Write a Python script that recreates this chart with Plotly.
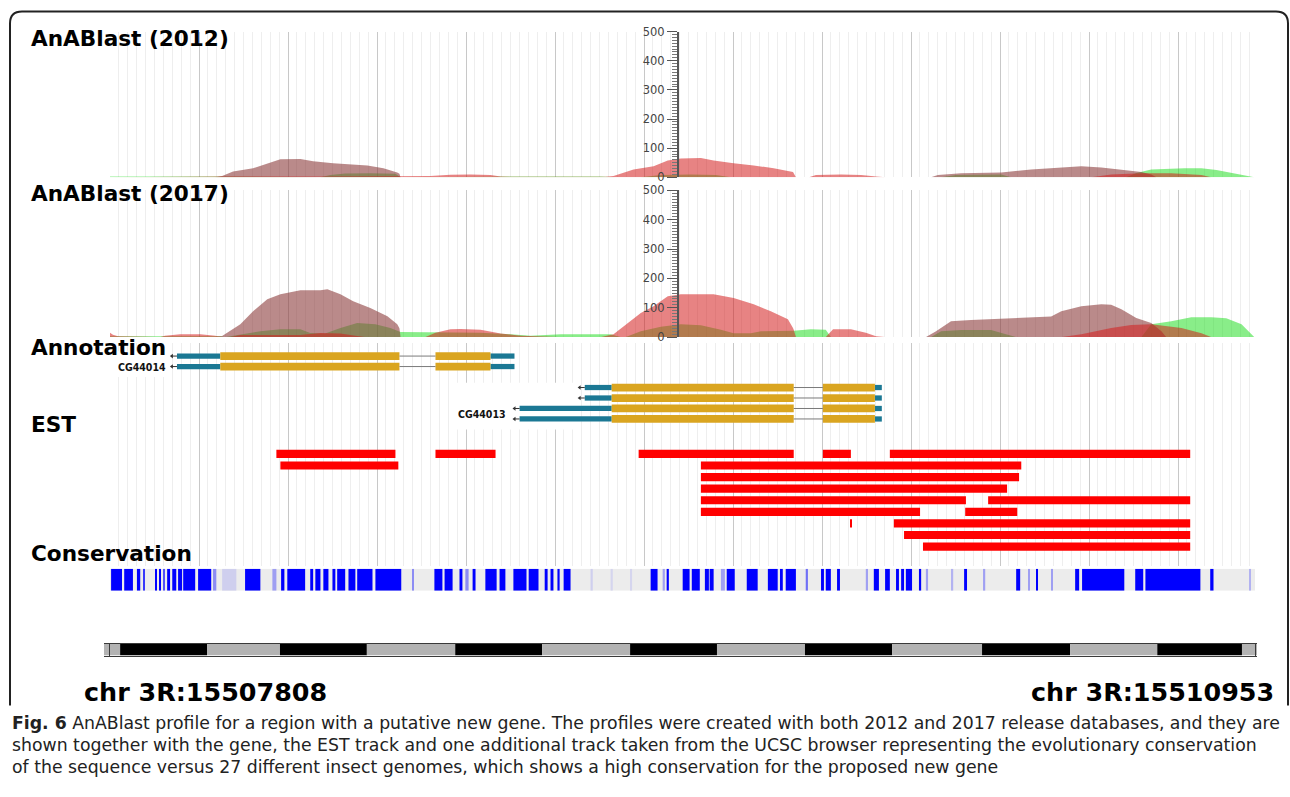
import plotly.graph_objects as go

W, H = 1290, 797

# ---- region -------------------------------------------------------------
CHROM = "chr 3R"
REGION_START = 15507808
REGION_END = 15510953
REGION_LEN = REGION_END - REGION_START

# browser grid: a major line every ~244.5 bp, ten minor lines per major
GRID_MAJOR = 244.46
GRID_MINOR = GRID_MAJOR / 10

# ---- AnABlast profiles (bp from region start, profile score) -------------
A12_BROWN_POS = [0, 289, 308, 338, 393, 432, 468, 523, 558, 613, 668, 707, 751, 789, 795, 798,
                 2255, 2274, 2338, 2448, 2530, 2613, 2668, 2723, 2778, 2833, 2860, 2874, 3145]
A12_BROWN_VAL = [0, 0, 5, 20, 31, 48, 62, 63, 55, 48, 44, 41, 31, 17, 12, 0,
                 0, 8, 14, 17, 27, 34, 38, 34, 27, 18, 10, 0, 0]
A12_RED_POS = [0, 300, 600, 853, 880, 935, 990, 1045, 1073, 1100, 1361, 1383, 1438, 1493, 1532,
               1568, 1623, 1658, 1713, 1768, 1823, 1876, 1878, 1884, 1920, 1939, 2008, 2063,
               2104, 2131, 2695, 2750, 2833, 2915, 2998, 3025, 3145]
A12_RED_VAL = [0, 3, 3, 3, 5, 9, 10, 8, 3, 2, 2, 5, 27, 38, 58,
               65, 66, 58, 48, 41, 31, 18, 12, 0, 0, 8, 10, 8,
               3, 0, 0, 10, 14, 14, 8, 0, 0]
A12_GREEN_POS = [0, 300, 578, 605, 646, 715, 784, 798, 1045, 1073, 1348, 1389, 1458, 1513, 1595,
                 1664, 1705, 2283, 2324, 2393, 2448, 2475, 2791, 2819, 2860, 2951, 2998, 3039,
                 3094, 3143]
A12_GREEN_VAL = [3, 3, 0, 8, 13, 14, 12, 0, 2, 3, 3, 0, 0, 8, 10,
                 8, 0, 0, 8, 10, 10, 0, 0, 15, 27, 31, 31, 25,
                 12, 0]

A17_BROWN_POS = [0, 289, 308, 358, 393, 432, 468, 523, 578, 597, 633, 668, 715, 762, 789, 795, 798,
                 2241, 2269, 2310, 2365, 2448, 2530, 2585, 2613, 2668, 2723, 2750, 2778, 2819,
                 2860, 2888, 2901, 3145]
A17_BROWN_VAL = [0, 0, 4, 44, 88, 129, 146, 160, 160, 163, 146, 122, 99, 71, 44, 30, 0,
                 0, 20, 54, 58, 62, 65, 70, 88, 105, 112, 110, 95, 65,
                 48, 20, 0, 0]
A17_RED_POS = [0, 8, 22, 138, 151, 193, 248, 289, 308, 330, 358, 523, 578, 633, 674, 701, 866,
               894, 935, 963, 1018, 1073, 1128, 1183, 1238, 1348, 1383, 1458, 1493, 1532, 1568,
               1623, 1658, 1713, 1768, 1815, 1862, 1876, 1878, 1884, 1966, 1986, 2035, 2076,
               2104, 2131, 2613, 2668, 2750, 2805, 2860, 2943, 2998, 3025, 3145]
A17_RED_VAL = [15, 8, 3, 0, 5, 10, 10, 5, 0, 0, 7, 7, 14, 12, 5, 0, 0,
               15, 27, 28, 25, 12, 5, 3, 0, 0, 10, 82, 105, 139, 146,
               146, 146, 133, 112, 88, 61, 31, 25, 0, 0, 27, 27, 15,
               3, 0, 0, 10, 31, 41, 44, 31, 13, 0, 0]
A17_GREEN_POS = [0, 303, 316, 358, 413, 468, 523, 550, 591, 633, 679, 729, 770, 798, 880, 963,
                 1018, 1100, 1155, 1238, 1375, 1403, 1416, 1458, 1513, 1568, 1623, 1678, 1713,
                 1760, 1788, 1878, 1925, 1966, 1980, 2255, 2283, 2338, 2420, 2461, 2489, 2833,
                 2860, 2915, 2970, 3025, 3066, 3108, 3143]
A17_GREEN_VAL = [3, 3, 0, 8, 20, 27, 27, 14, 12, 31, 48, 44, 31, 17, 17, 17,
                 15, 10, 5, 10, 10, 0, 0, 20, 35, 44, 40, 25, 13,
                 13, 20, 22, 27, 25, 0, 0, 20, 24, 24, 10, 0, 0,
                 44, 54, 68, 68, 64, 44, 0]

# ---- gene models ----------------------------------------------------------
TX_GENE = ["CG44014", "CG44014", "CG44013", "CG44013", "CG44013", "CG44013"]
TX_ROW = [0, 1, 3, 4, 5, 6]
EXON_TX = [0, 0, 0, 0, 1, 1, 1, 1, 2, 2, 2, 2, 3, 3, 3, 3, 4, 4, 4, 4, 5, 5, 5, 5]
EXON_START = [184, 303, 894, 1045, 184, 303, 894, 1045,
              1304, 1378, 1958, 2101, 1304, 1378, 1958, 2101,
              1125, 1378, 1958, 2101, 1125, 1378, 1958, 2101]
EXON_END = [303, 795, 1045, 1111, 303, 795, 1045, 1111,
            1378, 1878, 2101, 2120, 1378, 1878, 2101, 2120,
            1378, 1878, 2101, 2120, 1378, 1878, 2101, 2120]
EXON_KIND = ["utr", "cds", "cds", "utr"] * 6
GENE_LABEL_ROW = {"CG44014": 1, "CG44013": 5.5}

# ---- EST alignments ---------------------------------------------------------
EST_ROW = [1, 1, 1, 1, 1, 2, 2, 3, 4, 5, 5, 6, 6, 7, 7, 8, 9]
EST_START = [457, 894, 1452, 1958, 2142, 468, 1623, 1623, 1623, 1623, 2412, 1623, 2349, 2035,
             2153, 2181, 2233]
EST_END = [784, 1059, 1878, 2035, 2967, 792, 2503, 2497, 2464, 2351, 2967, 2225, 2492, 2038,
           2967, 2967, 2967]

# ---- conservation (27 insect genomes) -------------------------------------
CONS_START = [3, 39, 74, 91, 124, 135, 146, 157, 171, 187, 201, 242, 283, 308, 371, 446, 470,
              487, 550, 564, 586, 611, 624, 655, 679, 729, 831, 891, 919, 960, 976, 996, 1031,
              1070, 1108, 1150, 1194, 1210, 1229, 1246, 1320, 1375, 1430, 1485, 1518,
              1529, 1573, 1598, 1634, 1647, 1678, 1694, 1749, 1807, 1843, 1856, 1911, 1953,
              1966, 1997, 2076, 2098, 2129, 2159, 2173, 2186, 2222, 2241, 2310, 2346, 2398,
              2489, 2522, 2544, 2585, 2651, 2670, 2816, 2844, 3022, 3130]
CONS_END = [33, 63, 83, 94, 129, 140, 149, 165, 182, 198, 234, 278, 292, 347, 413, 457, 479,
            536, 558, 578, 600, 619, 646, 674, 721, 800, 833, 913, 941, 968, 985, 1004, 1062,
            1086, 1144, 1177, 1202, 1218, 1235, 1265, 1326, 1381, 1434, 1504, 1524,
            1535, 1592, 1620, 1645, 1658, 1689, 1716, 1779, 1834, 1848, 1884, 1917, 1961,
            1980, 2005, 2082, 2112, 2142, 2167, 2181, 2203, 2228, 2247, 2316, 2354, 2404,
            2500, 2527, 2549, 2588, 2662, 2786, 2838, 2995, 3031, 3132]
CONS_SCORE = [1, 1, 1, 0.8, 1, 1, 0.7, 1, 1, 1, 1, 1, 0.5, 0.15, 1, 0.4, 1,
              1, 1, 1, 1, 1, 1, 1, 1, 1, 0.5, 1, 1, 1, 0.5, 1, 1,
              1, 1, 1, 1, 1, 1, 1, 0.15, 0.12, 0.12, 1, 0.4,
              1, 1, 1, 1, 1, 0.4, 1, 1, 1, 1, 1, 0.6, 1,
              1, 1, 0.4, 1, 1, 1, 1, 1, 1, 0.4, 0.3, 1, 0.4,
              1, 0.4, 1, 0.4, 1, 1, 1, 1, 1, 0.3]

# ---- ruler bands -----------------------------------------------------------
RULER_BOUNDS = [0, 44, 281, 480, 717, 958, 1195, 1435, 1672, 1912, 2150, 2395, 2635, 2873,
                3104, 3145]

CAPTION = [
    "<b>Fig. 6</b> AnABlast profile for a region with a putative new gene. The profiles were "
    "created with both 2012 and 2017 release databases, and they are",
    "shown together with the gene, the EST track and one additional track taken from the UCSC "
    "browser representing the evolutionary conservation",
    "of the sequence versus 27 different insect genomes, which shows a high conservation for "
    "the proposed new gene",
]

# ---- styling ---------------------------------------------------------------
BROWN = "rgba(140,60,60,0.6)"
RED = "rgba(212,30,30,0.55)"
GREEN = "rgba(40,222,40,0.55)"
CDS_COLOR = "#daa520"
UTR_COLOR = "#1b7894"
EST_COLOR = "#ff0000"
MAJOR_GRID = "#c8c8c8"
MINOR_GRID = "#eeeeee"
CONS_BG = "#ececec"
TITLE_FONT = dict(family="DejaVu Sans", size=21.6, color="#000")
LABEL_FONT = dict(family="DejaVu Sans Condensed, DejaVu Sans, sans-serif", size=10.5, color="#111")
CAPTION_FONT = dict(family="DejaVu Sans", size=17.3, color="#222")

# vertical layout is laid out in pixel rows and scaled slightly about the middle track
V_CENTER = 336
V_SCALE = 1.0163


def fx(p):
    return p / W


def fy(p):
    return 1 - (V_CENTER + (p - V_CENTER) * V_SCALE) / H


fig = go.Figure()


def add_profile(pos, val, color, xa, ya):
    fig.add_trace(go.Scatter(x=pos, y=val, mode="lines", fill="tozeroy", fillcolor=color,
                             line=dict(width=0, color=color), xaxis=xa, yaxis=ya,
                             hoverinfo="skip", showlegend=False))


add_profile(A12_GREEN_POS, A12_GREEN_VAL, GREEN, "x", "y")
add_profile(A12_BROWN_POS, A12_BROWN_VAL, BROWN, "x", "y")
add_profile(A12_RED_POS, A12_RED_VAL, RED, "x", "y")
add_profile(A17_GREEN_POS, A17_GREEN_VAL, GREEN, "x2", "y2")
add_profile(A17_BROWN_POS, A17_BROWN_VAL, BROWN, "x2", "y2")
add_profile(A17_RED_POS, A17_RED_VAL, RED, "x2", "y2")

# gene models: introns, arrows, exons
intron_x, intron_y = [], []
for t, row in enumerate(TX_ROW):
    ex = sorted((s, e) for s, e, k in zip(EXON_START, EXON_END, EXON_TX) if k == t)
    for (s0, e0), (s1, e1) in zip(ex[:-1], ex[1:]):
        if s1 > e0:
            intron_x += [e0, s1, None]
            intron_y += [row, row, None]
fig.add_trace(go.Scatter(x=intron_x, y=intron_y, mode="lines", line=dict(color="#7a7a7a", width=1),
                         xaxis="x3", yaxis="y3", hoverinfo="skip", showlegend=False))

ARROW_BP = 14
arr_x, arr_y, tip_x, tip_y = [], [], [], []
tx_start = []
for t, row in enumerate(TX_ROW):
    s = min(st for st, k in zip(EXON_START, EXON_TX) if k == t)
    tx_start.append(s)
    arr_x += [s - ARROW_BP, s, None]
    arr_y += [row, row, None]
    tip_x.append(s - ARROW_BP)
    tip_y.append(row)
fig.add_trace(go.Scatter(x=arr_x, y=arr_y, mode="lines", line=dict(color="#333", width=1),
                         xaxis="x3", yaxis="y3", hoverinfo="skip", showlegend=False))
fig.add_trace(go.Scatter(x=tip_x, y=tip_y, mode="markers",
                         marker=dict(symbol="triangle-left", size=4, color="#333"),
                         xaxis="x3", yaxis="y3", hoverinfo="skip", showlegend=False))

for kind, color, thick in (("utr", UTR_COLOR, 0.5), ("cds", CDS_COLOR, 0.74)):
    idx = [i for i, k in enumerate(EXON_KIND) if k == kind]
    fig.add_trace(go.Bar(orientation="h",
                         y=[TX_ROW[EXON_TX[i]] for i in idx],
                         base=[EXON_START[i] for i in idx],
                         x=[EXON_END[i] - EXON_START[i] for i in idx],
                         width=thick, marker=dict(color=color, line=dict(width=0)),
                         xaxis="x3", yaxis="y3", hoverinfo="skip", showlegend=False))

# EST alignments
fig.add_trace(go.Bar(orientation="h", y=EST_ROW, base=EST_START,
                     x=[e - s for s, e in zip(EST_START, EST_END)], width=0.7,
                     marker=dict(color=EST_COLOR, line=dict(width=0)),
                     xaxis="x4", yaxis="y4", hoverinfo="skip", showlegend=False))

# conservation strip
fig.add_trace(go.Bar(orientation="h", y=[0], base=[0], x=[REGION_LEN], width=1,
                     marker=dict(color=CONS_BG, line=dict(width=0)),
                     xaxis="x5", yaxis="y5", hoverinfo="skip", showlegend=False))
fig.add_trace(go.Bar(orientation="h", y=[0] * len(CONS_START), base=CONS_START,
                     x=[e - s for s, e in zip(CONS_START, CONS_END)], width=1,
                     marker=dict(color=CONS_SCORE,
                                 colorscale=[[0, CONS_BG], [0.5, "#8c8cf4"], [1, "#0000ff"]],
                                 cmin=0, cmax=1, line=dict(width=0)),
                     xaxis="x5", yaxis="y5", hoverinfo="skip", showlegend=False))

# ruler
r_base = RULER_BOUNDS[:-1]
r_len = [b - a for a, b in zip(RULER_BOUNDS[:-1], RULER_BOUNDS[1:])]
r_col = ["#b3b3b3" if i % 2 == 0 else "#000000" for i in range(len(r_base))]
fig.add_trace(go.Bar(orientation="h", y=[0] * len(r_base), base=r_base, x=r_len, width=1,
                     marker=dict(color=r_col, line=dict(width=0)),
                     xaxis="x6", yaxis="y6", hoverinfo="skip", showlegend=False))

# ---- axes ------------------------------------------------------------------
TRACK_X = (110, 1255)


def grid_xaxis(anchor, grid=True):
    return dict(domain=[fx(TRACK_X[0]), fx(TRACK_X[1])], range=[0, REGION_LEN], anchor=anchor,
                showgrid=grid, gridcolor=MAJOR_GRID, gridwidth=1, tick0=0, dtick=GRID_MAJOR,
                minor=dict(dtick=GRID_MINOR, showgrid=grid, gridcolor=MINOR_GRID, gridwidth=1),
                showticklabels=False, ticks="", zeroline=False, showline=False, fixedrange=True)


def profile_yaxis(top, bottom):
    return dict(domain=[fy(bottom), fy(top)], range=[0, 500], anchor="free", position=fx(678),
                side="left", tick0=0, dtick=100, ticks="outside", ticklen=10, tickwidth=1,
                tickcolor="#555", showline=True, linewidth=2, linecolor="#555",
                showgrid=False, zeroline=False,
                minor=dict(dtick=10, ticks="outside", ticklen=5, tickwidth=1, tickcolor="#777",
                           showgrid=False),
                tickfont=dict(family="DejaVu Sans", size=11.5, color="#444"), fixedrange=True)


def hidden_yaxis(top, bottom, rng):
    return dict(domain=[fy(bottom), fy(top)], range=rng, visible=False, fixedrange=True)


ann_row_px, ann_top, ann_bot, ann_row0 = 10.5, 342, 440, 355
est_row_px, est_top, est_bot, est_row1 = 11.6, 440, 565, 453

fig.update_layout(
    width=W, height=H, margin=dict(l=0, r=0, t=0, b=0),
    paper_bgcolor="white", plot_bgcolor="rgba(0,0,0,0)",
    barmode="overlay", showlegend=False,
    xaxis=grid_xaxis("y"),
    yaxis=profile_yaxis(30, 176),
    xaxis2=grid_xaxis("y2"),
    yaxis2=profile_yaxis(189, 336),
    xaxis3=grid_xaxis("y3"),
    yaxis3=hidden_yaxis(ann_top, ann_bot,
                        [(ann_bot - ann_row0) / ann_row_px, (ann_top - ann_row0) / ann_row_px]),
    xaxis4=grid_xaxis("y4"),
    yaxis4=hidden_yaxis(est_top, est_bot,
                        [1 + (est_bot - est_row1) / est_row_px, 1 + (est_top - est_row1) / est_row_px]),
    xaxis5=grid_xaxis("y5", grid=False),
    yaxis5=hidden_yaxis(568, 590, [-0.5, 0.5]),
    xaxis6=dict(domain=[fx(104), fx(1257)], range=[0, REGION_LEN], anchor="y6", showgrid=False,
                showticklabels=False, ticks="", zeroline=False, showline=True, mirror=True,
                linecolor="#3a3a3a", linewidth=1, fixedrange=True),
    yaxis6=dict(domain=[fy(655), fy(643)], range=[-0.5, 0.5], showgrid=False, showticklabels=False,
                ticks="", zeroline=False, showline=True, mirror=True, linecolor="#3a3a3a",
                linewidth=1, fixedrange=True),
)

# white label boxes behind the gene names (cover the grid, sit under the features)
LABEL_BOX_BP = 172
for gene in ("CG44014", "CG44013"):
    ts = [t for t, g in enumerate(TX_GENE) if g == gene]
    rows = [TX_ROW[t] for t in ts]
    starts = [tx_start[t] for t in ts]
    box = dict(type="rect", xref="x3", yref="y3",
               x0=min(starts) - ARROW_BP - LABEL_BOX_BP, x1=max(starts) - ARROW_BP - 2,
               y0=min(rows) - 0.45, y1=max(rows) + 1.0,
               fillcolor="white", line=dict(width=0))
    try:
        fig.add_shape(layer="between", **box)
    except ValueError:
        fig.add_shape(layer="below", **box)

# ---- text ------------------------------------------------------------------
annotations = []
for text, ypx in (("AnABlast (2012)", 37), ("AnABlast (2017)", 192), ("Annotation", 346),
                  ("EST", 424), ("Conservation", 553)):
    annotations.append(dict(text="<b>%s</b>" % text, x=fx(29), y=fy(ypx), xref="paper",
                            yref="paper", xanchor="left", yanchor="middle", showarrow=False,
                            font=TITLE_FONT))

for gene, xshift in (("CG44014", -9), ("CG44013", -12)):
    ts = [t for t, g in enumerate(TX_GENE) if g == gene]
    annotations.append(dict(text="<b>%s</b>" % gene, x=min(tx_start[t] for t in ts),
                            y=GENE_LABEL_ROW[gene], xref="x3", yref="y3", xanchor="right",
                            yanchor="middle", xshift=xshift, showarrow=False, font=LABEL_FONT))

CHR_FONT = dict(family="DejaVu Sans", size=25.4, color="#000")
annotations.append(dict(text="<b>%s:%d</b>" % (CHROM, REGION_START), x=fx(82), y=fy(691),
                        xref="paper", yref="paper", xanchor="left", yanchor="middle",
                        showarrow=False, font=CHR_FONT))
annotations.append(dict(text="<b>%s:%d</b>" % (CHROM, REGION_END), x=fx(1276), y=fy(691),
                        xref="paper", yref="paper", xanchor="right", yanchor="middle",
                        showarrow=False, font=CHR_FONT))

for i, line in enumerate(CAPTION):
    annotations.append(dict(text=line, x=fx(10), y=fy(723 + 22 * i), xref="paper", yref="paper",
                            xanchor="left", yanchor="middle", showarrow=False,
                            font=CAPTION_FONT))

fig.update_layout(annotations=annotations)

# frame around the browser panel (open at the bottom, rounded top corners)
r = 12
frame = ("M %f,%f L %f,%f Q %f,%f %f,%f L %f,%f Q %f,%f %f,%f L %f,%f" % (
    fx(10), fy(705), fx(10), fy(10 + r), fx(10), fy(10), fx(10 + r), fy(10),
    fx(1288 - r), fy(10), fx(1288), fy(10), fx(1288), fy(10 + r), fx(1288), fy(705)))
fig.add_shape(type="path", path=frame, xref="paper", yref="paper",
              line=dict(color="#222", width=2), layer="above")

fig.write_html("out.html")
